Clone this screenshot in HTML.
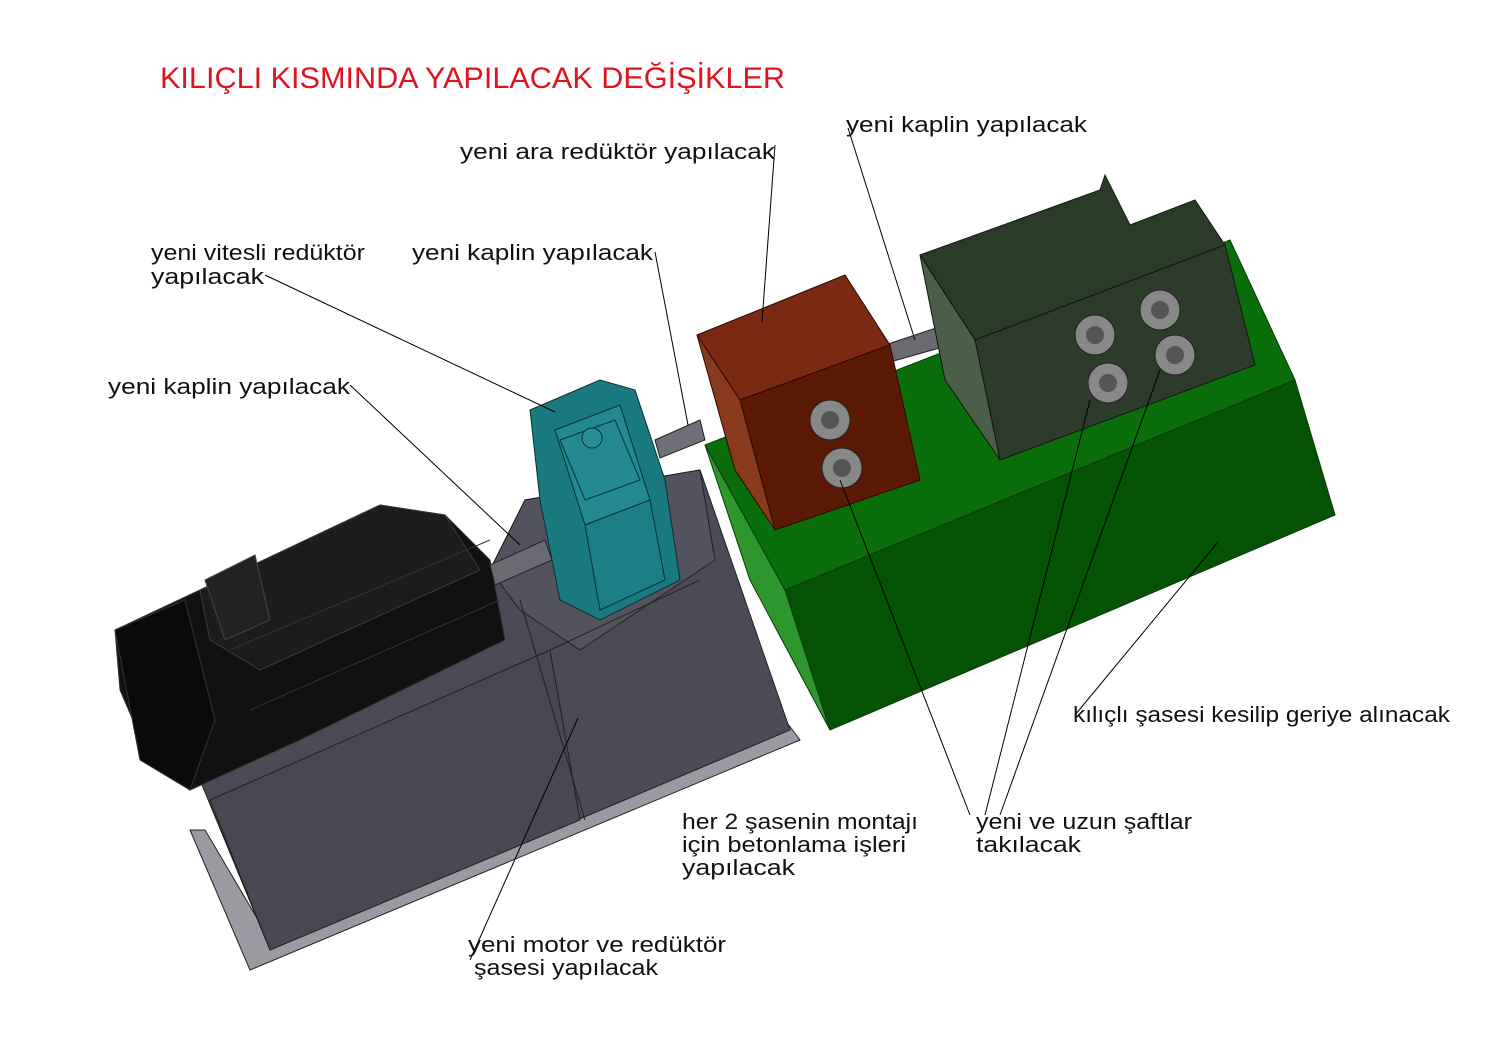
<!DOCTYPE html>
<html><head><meta charset="utf-8"><style>
html,body{margin:0;padding:0;background:#fff;}
svg{display:block;}
text{font-family:"Liberation Sans",sans-serif;font-size:22px;fill:#111;}
</style></head><body>
<svg width="1497" height="1058" viewBox="0 0 1497 1058" xmlns="http://www.w3.org/2000/svg">
<rect width="1497" height="1058" fill="#fff"/>
<text x="160" y="88" textLength="625" lengthAdjust="spacingAndGlyphs" style="font-size:30px;fill:#e0141e">KILIÇLI  KISMINDA YAPILACAK DEĞİŞİKLER</text>

<!-- grey motor chassis -->
<polygon points="190,830 250,970 800,740 785,720 270,940 205,830" fill="#9a9aa2" stroke="#222" stroke-width="1"/>
<polygon points="200,780 490,570 525,500 700,470 790,730 270,950" fill="#4b4b57" stroke="#222" stroke-width="1"/>
<polygon points="490,570 525,500 700,470 715,560 580,650 520,610" fill="#53535f" stroke="#222" stroke-width="1"/>
<polygon points="210,800 550,650 580,820 270,950" fill="#484852" stroke="#222" stroke-width="1"/>
<line x1="550" y1="650" x2="700" y2="580" stroke="#222"/>
<line x1="520" y1="600" x2="585" y2="820" stroke="#222"/>

<!-- black motor -->
<polygon points="115,630 200,590 380,505 445,515 490,560 505,640 300,740 190,790 150,760 120,690" fill="#111" stroke="#333"/>
<polygon points="200,590 380,505 445,515 480,570 260,670 210,640" fill="#1c1c1c" stroke="#3a3a3a"/>
<polygon points="205,580 255,555 270,620 225,640" fill="#222" stroke="#444"/>
<polygon points="115,630 185,600 215,720 190,790 140,760" fill="#0a0a0a" stroke="#333"/>
<line x1="230" y1="650" x2="490" y2="540" stroke="#333"/>
<line x1="250" y1="710" x2="500" y2="600" stroke="#333"/>
<!-- shafts -->
<polygon points="490,565 545,540 552,560 495,585" fill="#6a6a72" stroke="#222"/>
<polygon points="655,440 700,420 705,440 660,458" fill="#70707a" stroke="#222"/>
<polygon points="885,345 945,325 950,345 890,362" fill="#6a6a72" stroke="#222"/>

<!-- teal gearbox -->
<polygon points="530,410 600,380 635,390 665,480 680,580 600,620 560,600 540,500" fill="#1a7a80" stroke="#0a3034"/>
<polygon points="555,430 620,405 650,500 585,525" fill="#248890" stroke="#0a3034"/>
<polygon points="560,440 615,420 640,480 585,500" fill="none" stroke="#0a3034"/>
<circle cx="592" cy="438" r="10" fill="#2a9098" stroke="#0a3034"/>
<polygon points="585,525 650,500 665,580 600,610" fill="#1e7e86" stroke="#0a3034"/>

<!-- green chassis -->
<polygon points="705,445 1230,240 1295,380 785,590" fill="#0a6e0a" stroke="#0a3a0a"/>
<polygon points="785,590 1295,380 1335,515 830,730" fill="#045204" stroke="#0a3a0a"/>
<polygon points="705,445 785,590 830,730 750,580" fill="#2d962d" stroke="#0a3a0a"/>

<!-- brown box -->
<polygon points="697,335 845,275 890,345 740,400" fill="#7a2a12" stroke="#2a0a02"/>
<polygon points="740,400 890,345 920,480 775,530" fill="#5a1a06" stroke="#2a0a02"/>
<polygon points="697,335 740,400 775,530 735,470" fill="#8a3a1c" stroke="#2a0a02"/>
<circle cx="830" cy="420" r="20" fill="#888" stroke="#222"/><circle cx="830" cy="420" r="9" fill="#555"/>
<circle cx="842" cy="468" r="20" fill="#888" stroke="#222"/><circle cx="842" cy="468" r="9" fill="#555"/>

<!-- dark green box -->
<polygon points="920,255 1100,190 1105,175 1130,225 1195,200 1225,245 975,340" fill="#2a3c28" stroke="#101810"/>
<polygon points="975,340 1225,245 1255,365 1000,460" fill="#2d3b2a" stroke="#101810"/>
<polygon points="920,255 975,340 1000,460 945,380" fill="#4a5e48" stroke="#101810"/>
<circle cx="1095" cy="335" r="20" fill="#888" stroke="#222"/><circle cx="1095" cy="335" r="9" fill="#555"/>
<circle cx="1160" cy="310" r="20" fill="#888" stroke="#222"/><circle cx="1160" cy="310" r="9" fill="#555"/>
<circle cx="1108" cy="383" r="20" fill="#888" stroke="#222"/><circle cx="1108" cy="383" r="9" fill="#555"/>
<circle cx="1175" cy="355" r="20" fill="#888" stroke="#222"/><circle cx="1175" cy="355" r="9" fill="#555"/>

<!-- leader lines -->
<g stroke="#000" stroke-width="1" fill="none">
<line x1="775" y1="145" x2="762" y2="322"/>
<line x1="848" y1="128" x2="915" y2="340"/>
<line x1="655" y1="252" x2="688" y2="425"/>
<line x1="265" y1="275" x2="555" y2="412"/>
<line x1="350" y1="385" x2="520" y2="545"/>
<line x1="1218" y1="542" x2="1075" y2="715"/>
<line x1="840" y1="480" x2="970" y2="815"/>
<line x1="1090" y1="400" x2="985" y2="815"/>
<line x1="1160" y1="370" x2="1000" y2="815"/>
<line x1="578" y1="718" x2="470" y2="960"/>
</g>

<text x="460" y="159" textLength="315" lengthAdjust="spacingAndGlyphs">yeni ara redüktör yapılacak</text>
<text x="846" y="132" textLength="241" lengthAdjust="spacingAndGlyphs">yeni kaplin yapılacak</text>
<text x="151" y="260" textLength="214" lengthAdjust="spacingAndGlyphs">yeni vitesli redüktör</text>
<text x="151" y="284" textLength="113" lengthAdjust="spacingAndGlyphs">yapılacak</text>
<text x="412" y="260" textLength="241" lengthAdjust="spacingAndGlyphs">yeni kaplin yapılacak</text>
<text x="108" y="394" textLength="242" lengthAdjust="spacingAndGlyphs">yeni kaplin yapılacak</text>
<text x="1073" y="722" textLength="377" lengthAdjust="spacingAndGlyphs">kılıçlı şasesi kesilip geriye alınacak</text>
<text x="682" y="829" textLength="236" lengthAdjust="spacingAndGlyphs">her 2 şasenin montajı</text>
<text x="682" y="852" textLength="224" lengthAdjust="spacingAndGlyphs">için betonlama işleri</text>
<text x="682" y="875" textLength="113" lengthAdjust="spacingAndGlyphs">yapılacak</text>
<text x="976" y="829" textLength="216" lengthAdjust="spacingAndGlyphs">yeni ve uzun şaftlar</text>
<text x="976" y="852" textLength="105" lengthAdjust="spacingAndGlyphs">takılacak</text>
<text x="468" y="952" textLength="258" lengthAdjust="spacingAndGlyphs">yeni motor ve redüktör</text>
<text x="474" y="975" textLength="184" lengthAdjust="spacingAndGlyphs">şasesi yapılacak</text>
</svg>
</body></html>
